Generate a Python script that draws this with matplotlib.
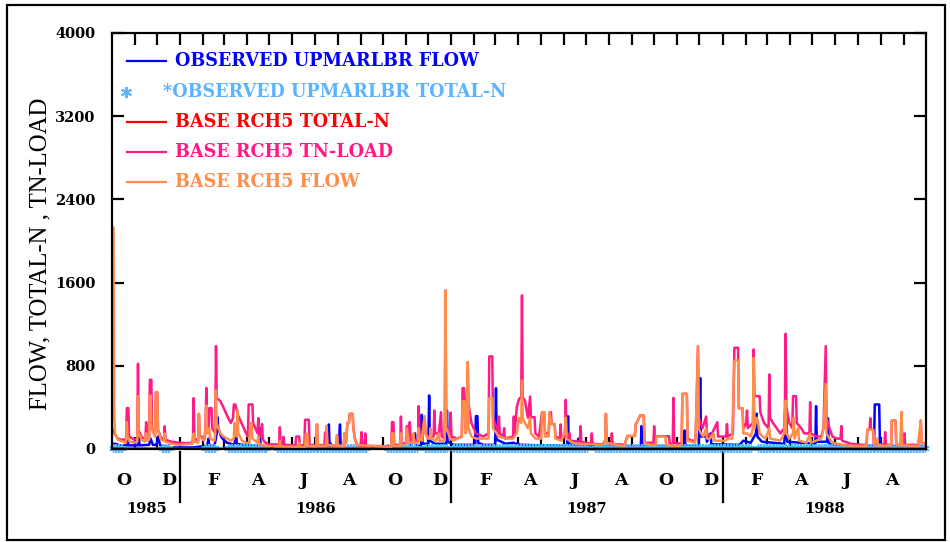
import numpy as np
import matplotlib
matplotlib.use('Agg')
import matplotlib.pyplot as plt
from matplotlib.transforms import blended_transform_factory
from matplotlib.patches import Rectangle

# ---------------- data (x = days since 1985-10-01) ----------------
START = np.datetime64('1985-10-01')
month_starts = np.arange(np.datetime64('1985-10'), np.datetime64('1988-11'), dtype='datetime64[M]')
month_days = (month_starts.astype('datetime64[D]') - START).astype(int)

month_letters = ['O', 'D', 'F', 'A', 'J', 'A', 'O', 'D', 'F', 'A', 'J', 'A',
                 'O', 'D', 'F', 'A', 'J', 'A']
year_labels = ['1985', '1986', '1987', '1988']
y_ticks = [0, 800, 1600, 2400, 3200, 4000]

series_labels = ['OBSERVED UPMARLBR FLOW', '*OBSERVED UPMARLBR TOTAL-N',
                 'BASE RCH5 TOTAL-N', 'BASE RCH5 TN-LOAD', 'BASE RCH5 FLOW']

obs_flow_pts = [
    (0, 50), (5, 50), (10, 35), (20, 35), (21, 120), (22, 35), (35, 35), (36, 150), (37, 35),
    (50, 40), (52, 100), (55, 40), (60, 40), (62, 120), (65, 30), (70, 25), (80, 15), (110, 15),
    (115, 20), (128, 30), (130, 100), (131, 30), (138, 30), (141, 150), (142, 306), (143, 200),
    (147, 120), (150, 90), (155, 60), (165, 40), (167, 200), (168, 50), (175, 40), (185, 35),
    (198, 30), (199, 200), (200, 35), (210, 20), (240, 15), (290, 15), (292, 236), (293, 15),
    (294, 55), (295, 15), (305, 15), (307, 236), (308, 15), (400, 15), (408, 150), (409, 30),
    (416, 30), (417, 328), (418, 50), (426, 50), (427, 515), (428, 80), (435, 50), (450, 50),
    (451, 370), (452, 70), (460, 40), (489, 40), (490, 316), (492, 316), (493, 60), (500, 40),
    (516, 40), (517, 585), (518, 90), (530, 50), (540, 60), (550, 40), (613, 30), (614, 316),
    (615, 50), (625, 30), (628, 100), (629, 30), (712, 25), (713, 220), (714, 25), (770, 25),
    (771, 178), (772, 30), (790, 30), (792, 681), (793, 120), (800, 120), (801, 70), (806, 150),
    (807, 45), (845, 40), (850, 80), (860, 60), (867, 150), (868, 340), (869, 120), (875, 70),
    (905, 50), (908, 322), (909, 70), (947, 50), (948, 412), (949, 70), (963, 70), (964, 296),
    (965, 50), (975, 40), (990, 30), (1026, 30), (1027, 428), (1033, 428), (1034, 30),
    (1060, 25), (1096, 25)]

# observed total-N sampling periods: (first day, last day, concentration)
obs_tn_periods = [(2, 15, 6), (67, 78, 6), (125, 139, 6), (156, 209, 6), (222, 343, 6),
                  (370, 411, 6), (421, 451, 6), (459, 640, 6), (650, 860, 6), (870, 1094, 6)]

base_tn_pts = [(0, 5), (90, 4), (180, 3), (270, 2), (365, 3), (450, 5), (540, 4), (640, 2),
               (730, 3), (820, 5), (910, 4), (1000, 2), (1096, 2)]

base_load_pts = [
    (0, 200), (3, 150), (5, 130), (8, 100), (12, 90), (19, 90), (20, 393), (22, 393), (23, 120),
    (30, 90), (34, 100), (35, 820), (36, 180), (40, 110), (45, 100), (46, 258), (47, 110),
    (50, 100), (51, 665), (53, 665), (54, 200), (58, 130), (59, 546), (61, 546), (62, 180),
    (66, 110), (70, 90), (71, 219), (72, 90), (80, 70), (90, 60), (100, 55), (108, 60), (109, 100),
    (110, 489), (111, 100), (116, 80), (117, 338), (118, 130), (125, 100), (126, 250), (127, 588),
    (128, 200), (130, 200), (131, 393), (134, 393), (135, 200), (139, 150), (140, 989), (141, 489),
    (146, 460), (150, 400), (155, 320), (160, 250), (163, 300), (164, 428), (166, 428), (170, 320),
    (175, 240), (180, 160), (183, 120), (184, 428), (189, 428), (190, 250), (193, 200), (196, 150),
    (197, 296), (198, 150), (200, 120), (201, 145), (202, 240), (203, 100), (205, 70), (210, 45),
    (225, 43), (226, 210), (227, 45), (230, 45), (231, 117), (232, 40), (247, 35), (248, 120),
    (252, 120), (253, 35), (259, 35), (260, 281), (265, 281), (266, 40), (275, 35), (276, 236),
    (277, 40), (286, 35), (287, 160), (288, 35), (289, 220), (290, 40), (302, 30), (303, 130),
    (304, 30), (312, 25), (313, 150), (314, 150), (315, 60), (317, 250), (319, 250), (320, 338),
    (324, 338), (325, 200), (327, 100), (330, 40), (335, 30), (336, 162), (337, 30), (340, 30),
    (341, 150), (342, 30), (376, 25), (377, 258), (379, 258), (380, 40), (388, 40), (389, 312),
    (390, 60), (396, 50), (397, 219), (398, 150), (400, 150), (401, 258), (402, 80), (412, 80),
    (413, 412), (414, 150), (417, 120), (418, 150), (421, 312), (422, 150), (425, 120), (433, 120),
    (434, 370), (435, 150), (440, 150), (443, 354), (444, 120), (448, 100), (449, 1525), (450, 200),
    (455, 150), (456, 350), (457, 120), (465, 100), (471, 120), (472, 585), (474, 585), (475, 460),
    (476, 200), (478, 300), (479, 835), (480, 428), (484, 250), (490, 150), (500, 120), (507, 150),
    (508, 890), (512, 890), (513, 300), (518, 200), (520, 150), (521, 312), (522, 150), (527, 120),
    (528, 200), (529, 100), (540, 120), (541, 312), (542, 150), (545, 400), (548, 480), (551, 500),
    (552, 1477), (553, 500), (556, 465), (560, 300), (563, 505), (564, 300), (566, 306), (569, 306),
    (570, 150), (575, 120), (579, 354), (582, 354), (583, 150), (588, 150), (589, 354), (591, 354),
    (592, 240), (596, 240), (597, 120), (603, 100), (604, 236), (605, 100), (610, 120), (611, 473),
    (612, 150), (615, 120), (616, 150), (617, 80), (630, 70), (631, 219), (632, 70), (645, 50),
    (646, 150), (647, 50), (660, 45), (664, 80), (665, 338), (666, 60), (672, 50), (673, 150),
    (674, 50), (690, 40), (694, 125), (704, 125), (705, 236), (708, 274), (711, 322), (716, 322),
    (717, 60), (729, 60), (730, 219), (731, 60), (732, 123), (750, 123), (751, 50), (755, 50),
    (756, 492), (757, 60), (767, 50), (768, 530), (774, 530), (775, 100), (780, 80), (785, 80),
    (786, 150), (789, 989), (790, 300), (795, 200), (800, 312), (801, 150), (806, 120), (815, 258),
    (816, 120), (827, 120), (828, 240), (829, 120), (836, 150), (838, 973), (843, 973), (844, 392),
    (849, 392), (850, 200), (854, 250), (855, 370), (856, 200), (863, 250), (864, 957), (865, 508),
    (872, 508), (873, 350), (878, 250), (884, 200), (885, 717), (886, 300), (890, 250), (895, 200),
    (900, 150), (905, 200), (906, 400), (907, 1108), (908, 400), (912, 250), (916, 200), (917, 508),
    (921, 508), (922, 250), (928, 200), (932, 150), (939, 150), (940, 450), (941, 150), (948, 120),
    (955, 120), (958, 200), (961, 989), (962, 300), (966, 200), (970, 120), (975, 100), (981, 100),
    (982, 220), (983, 80), (995, 50), (1010, 40), (1016, 40), (1017, 185), (1020, 185), (1021, 296),
    (1022, 185), (1025, 185), (1026, 50), (1040, 40), (1041, 162), (1042, 40), (1049, 40),
    (1050, 274), (1055, 274), (1056, 40), (1062, 40), (1063, 354), (1064, 40), (1066, 40),
    (1067, 150), (1068, 40), (1086, 40), (1087, 150), (1088, 150), (1089, 274), (1090, 60),
    (1096, 50)]

base_flow_pts = [
    (0, 300), (1, 2130), (2, 2130), (3, 350), (4, 150), (8, 90), (15, 70), (19, 60), (20, 258),
    (21, 120), (24, 70),
    (30, 60), (34, 70), (35, 508), (36, 150), (40, 90), (44, 70), (46, 150), (47, 80), (50, 90),
    (51, 514), (52, 514), (53, 200), (58, 120), (59, 546), (61, 546), (62, 180), (66, 90), (70, 80),
    (71, 150), (72, 70), (80, 50), (90, 40), (108, 50), (110, 150), (111, 70), (116, 60), (117, 338),
    (118, 120), (124, 80), (126, 200), (127, 420), (128, 150), (131, 200), (132, 100), (138, 80),
    (139, 150), (140, 563), (141, 250), (143, 200), (146, 150), (150, 120), (155, 100), (160, 80),
    (164, 100), (165, 250), (166, 150), (168, 120), (169, 370), (170, 150), (175, 80), (180, 60),
    (185, 60), (186, 250), (188, 250), (189, 100), (196, 60), (197, 120), (198, 50), (203, 40),
    (210, 30), (225, 25), (226, 80), (227, 25), (251, 20), (252, 60), (253, 20), (260, 20),
    (261, 145), (263, 145), (264, 30), (275, 25), (276, 236), (277, 40), (280, 30), (288, 30),
    (289, 220), (290, 40), (302, 30), (303, 130), (304, 30), (312, 25), (313, 150), (314, 150),
    (315, 60), (317, 250), (319, 250), (320, 338), (324, 338), (325, 200), (327, 100), (330, 40),
    (345, 30), (376, 20), (377, 150), (379, 150), (380, 30), (388, 30), (389, 150), (390, 40),
    (396, 40), (397, 200), (398, 150), (399, 60), (405, 60), (406, 150), (407, 60), (412, 60),
    (413, 200), (414, 100), (417, 80), (418, 150), (421, 312), (422, 150), (425, 100), (428, 100),
    (429, 200), (430, 100), (436, 80), (440, 150), (441, 80), (448, 80), (449, 1525), (450, 200),
    (453, 150), (455, 100), (460, 80), (465, 100), (471, 120), (472, 460), (475, 460), (476, 150),
    (478, 200), (479, 835), (480, 200), (484, 120), (490, 100), (507, 100), (508, 490), (512, 490),
    (513, 200), (518, 150), (520, 120), (530, 100), (540, 100), (545, 150), (548, 300), (551, 250),
    (552, 659), (553, 300), (556, 250), (560, 200), (563, 300), (564, 150), (570, 100), (578, 100),
    (579, 354), (582, 354), (583, 120), (588, 120), (589, 354), (591, 280), (592, 240), (596, 240),
    (597, 100), (605, 80), (609, 150), (611, 300), (612, 100), (620, 60), (630, 50), (660, 40),
    (664, 80), (665, 338), (666, 60), (680, 40), (690, 30), (694, 125), (704, 125), (705, 236),
    (708, 274), (711, 322), (716, 322), (717, 60), (725, 40), (732, 40), (733, 120), (745, 120),
    (746, 40), (760, 30), (767, 40), (768, 530), (774, 530), (775, 80), (785, 60), (786, 150),
    (789, 989), (790, 200), (793, 150), (796, 120), (800, 200), (801, 100), (805, 100), (810, 150),
    (811, 80), (825, 80), (830, 100), (835, 100), (838, 851), (843, 851), (844, 392), (849, 392),
    (850, 150), (855, 150), (860, 120), (863, 200), (864, 877), (865, 200), (868, 300), (870, 250),
    (872, 150), (876, 120), (880, 100), (885, 200), (886, 100), (900, 80), (905, 150), (907, 465),
    (908, 150), (912, 100), (917, 150), (918, 300), (919, 100), (924, 205), (925, 80), (935, 60),
    (940, 150), (941, 60), (955, 100), (958, 200), (961, 627), (962, 150), (966, 100), (970, 60),
    (985, 40), (1000, 30), (1016, 30), (1017, 185), (1025, 185), (1026, 40), (1030, 100),
    (1031, 40), (1040, 30), (1049, 40), (1050, 274), (1055, 274), (1056, 40), (1062, 40),
    (1063, 354), (1064, 40), (1075, 30), (1086, 30), (1087, 150), (1089, 274), (1090, 60),
    (1096, 40)]

colors = ['#0000ff', '#5cb3ff', '#ff0000', '#ff1a85', '#ff8c4a']

# ---------------- figure ----------------
LEGF = ['DejaVu Serif']
SERIF = ['Liberation Serif', 'DejaVu Serif']

fig = plt.figure(figsize=(9.5, 5.42), dpi=100)
W, H = 950, 542
ax = fig.add_axes([112 / W, 1 - 449 / H, 814 / W, 416 / H])

def xy(pts):
    a = np.array(pts, dtype=float)
    return a[:, 0], a[:, 1]

LW = 1.8
x, y = xy(obs_flow_pts)
ax.plot(x, y, color=colors[0], lw=LW, zorder=2)

n_days, n_vals = [], []
for s, e, v in obs_tn_periods:
    d = np.arange(s, e + 1, 2)
    n_days.extend(d)
    n_vals.extend([v] * len(d))
ax.plot(n_days, n_vals, ls='none', marker=(6, 2, 0), ms=6, mew=0.9,
        color=colors[1], zorder=2.1, clip_on=False)

x, y = xy(base_tn_pts)
ax.plot(x, y, color=colors[2], lw=LW, zorder=2.2)
x, y = xy(base_load_pts)
ax.plot(x, y, color=colors[3], lw=LW, zorder=2.3)
x, y = xy(base_flow_pts)
ax.plot(x, y, color=colors[4], lw=LW, zorder=2.4)

ax.set_xlim(month_days[0], month_days[-1])
ax.set_ylim(0, 4000)
ax.set_yticks(y_ticks)
ax.set_yticklabels([str(v) for v in y_ticks], fontfamily=LEGF, fontweight='bold', fontsize=10.5)
ax.set_xticks(month_days[1:-1])
ax.set_xticklabels([])
ax.tick_params(axis='both', direction='in', length=8.5, width=1.6, color='black',
               top=True, right=True)
ax.tick_params(axis='y', pad=12)
for sp in ax.spines.values():
    sp.set_linewidth(1.6)
    sp.set_zorder(3)

# month / year labels
tr = blended_transform_factory(ax.transData, ax.transAxes)
for i, lab in enumerate(month_letters):
    m = 2 * i
    c = (month_days[m] + month_days[m + 1]) / 2
    ax.text(c, -0.075, lab, transform=tr, ha='center', va='center',
            fontfamily=LEGF, fontweight='bold', fontsize=12.5)
jan = [d for d, m in zip(month_days, month_starts) if str(m).endswith('-01')]
for d in jan:
    ax.plot([d, d], [-0.008, -0.127], transform=tr, color='black', lw=1.6, clip_on=False)
bounds = [month_days[0]] + jan + [month_days[-1]]
for i, lab in enumerate(year_labels):
    c = (bounds[i] + bounds[i + 1]) / 2
    ax.text(c, -0.144, lab, transform=tr, ha='center', va='center',
            fontfamily=LEGF, fontweight='bold', fontsize=10.5)

# legend (manual)
leg_y = [0.9327, 0.8582, 0.7861, 0.7139, 0.6418]
for i, lab in enumerate(series_labels):
    if i == 1:
        ax.plot([0.017], [leg_y[i]], transform=ax.transAxes, ls='none', marker=(6, 2, 0),
                ms=8, mew=1.4, color=colors[i], clip_on=False)
        ax.text(0.0627, leg_y[i], lab, transform=ax.transAxes, ha='left', va='center',
                color=colors[i], fontfamily=LEGF, fontweight='bold', fontsize=12.7)
    else:
        ax.plot([0.0184, 0.0663], [leg_y[i], leg_y[i]], transform=ax.transAxes,
                color=colors[i], lw=1.6)
        ax.text(0.0774, leg_y[i], lab, transform=ax.transAxes, ha='left', va='center',
                color=colors[i], fontfamily=LEGF, fontweight='bold', fontsize=12.7)

fig.text(40 / W, 1 - 254 / H, 'FLOW, TOTAL-N , TN-LOAD', rotation=90, ha='center',
         va='center', fontfamily=SERIF, fontsize=17.8)

fig.patches.append(Rectangle((7 / W, 1 - 540 / H), 938 / W, 535 / H, transform=fig.transFigure,
                             fill=False, ec='black', lw=1.6))

fig.savefig('out.png', dpi=100)
